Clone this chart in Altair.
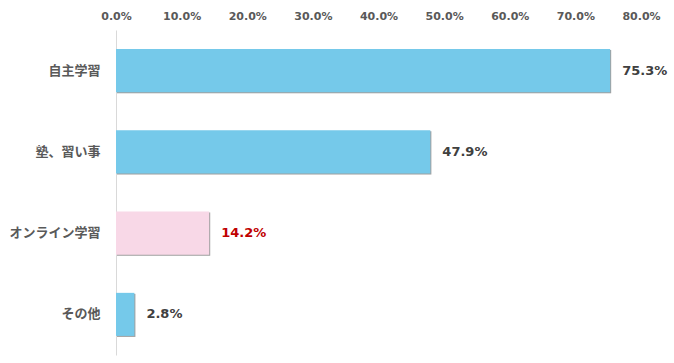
import altair as alt
import pandas as pd

categories = ["自主学習", "塾、習い事", "オンライン学習", "その他"]
values = [75.3, 47.9, 14.2, 2.8]
bar_colors = ["#75C9EA", "#75C9EA", "#F8D8E7", "#75C9EA"]
label_colors = ["#404040", "#404040", "#C00000", "#404040"]
tick_values = [0, 10, 20, 30, 40, 50, 60, 70, 80]

df = pd.DataFrame({
    "cat": categories,
    "val": values,
    "barcolor": bar_colors,
    "labcolor": label_colors,
    "label": [f"{v:.1f}%" for v in values],
})

xscale = alt.Scale(domain=[0, 80], nice=False, zero=True)
yscale = alt.Scale(domain=categories, paddingInner=0.47, paddingOuter=0.235)

base = alt.Chart(df)

y_enc = alt.Y("cat:N", scale=yscale, sort=categories,
              axis=alt.Axis(title=None, ticks=False, domain=True, domainColor="#D9D9D9",
                            domainWidth=1, labelFont="Noto Sans CJK JP", labelFontSize=13,
                            labelFontWeight="bold", labelColor="#595959", labelPadding=16))

x_enc = alt.X("val:Q", scale=xscale,
              axis=alt.Axis(title=None, orient="top", values=tick_values, ticks=False,
                            domain=False, grid=False, labelExpr="format(datum.value, '.1f') + '%'",
                            labelFont="DejaVu Sans", labelFontSize=11, labelFontWeight="bold",
                            labelColor="#595959", labelPadding=9, labelFlush=False))

shadow1 = base.mark_bar(color="#808080", opacity=0.22, xOffset=1, x2Offset=5, yOffset=1, y2Offset=5).encode(
    x=x_enc, y=y_enc)
shadow2 = base.mark_bar(color="#505050", opacity=0.45, xOffset=1, x2Offset=3, yOffset=1, y2Offset=3).encode(
    x=alt.X("val:Q", scale=xscale), y=alt.Y("cat:N", scale=yscale, sort=categories))

bars = base.mark_bar().encode(
    x=alt.X("val:Q", scale=xscale),
    y=alt.Y("cat:N", scale=yscale, sort=categories),
    color=alt.Color("barcolor:N", scale=None),
)

labels = base.mark_text(align="left", baseline="middle", dx=12, font="DejaVu Sans",
                        fontSize=13, fontWeight="bold").encode(
    x=alt.X("val:Q", scale=xscale),
    y=alt.Y("cat:N", scale=yscale, sort=categories),
    text="label:N",
    color=alt.Color("labcolor:N", scale=None),
)

chart = alt.layer(shadow1, shadow2, bars, labels).properties(
    width=525, height=325,
    autosize=alt.AutoSizeParams(type="none"),
    padding={"left": 116, "top": 30, "right": 33, "bottom": 8},
    background="white",
).configure_view(stroke=None)

chart.save("out.html", embed_options={"renderer": "svg", "actions": False})
